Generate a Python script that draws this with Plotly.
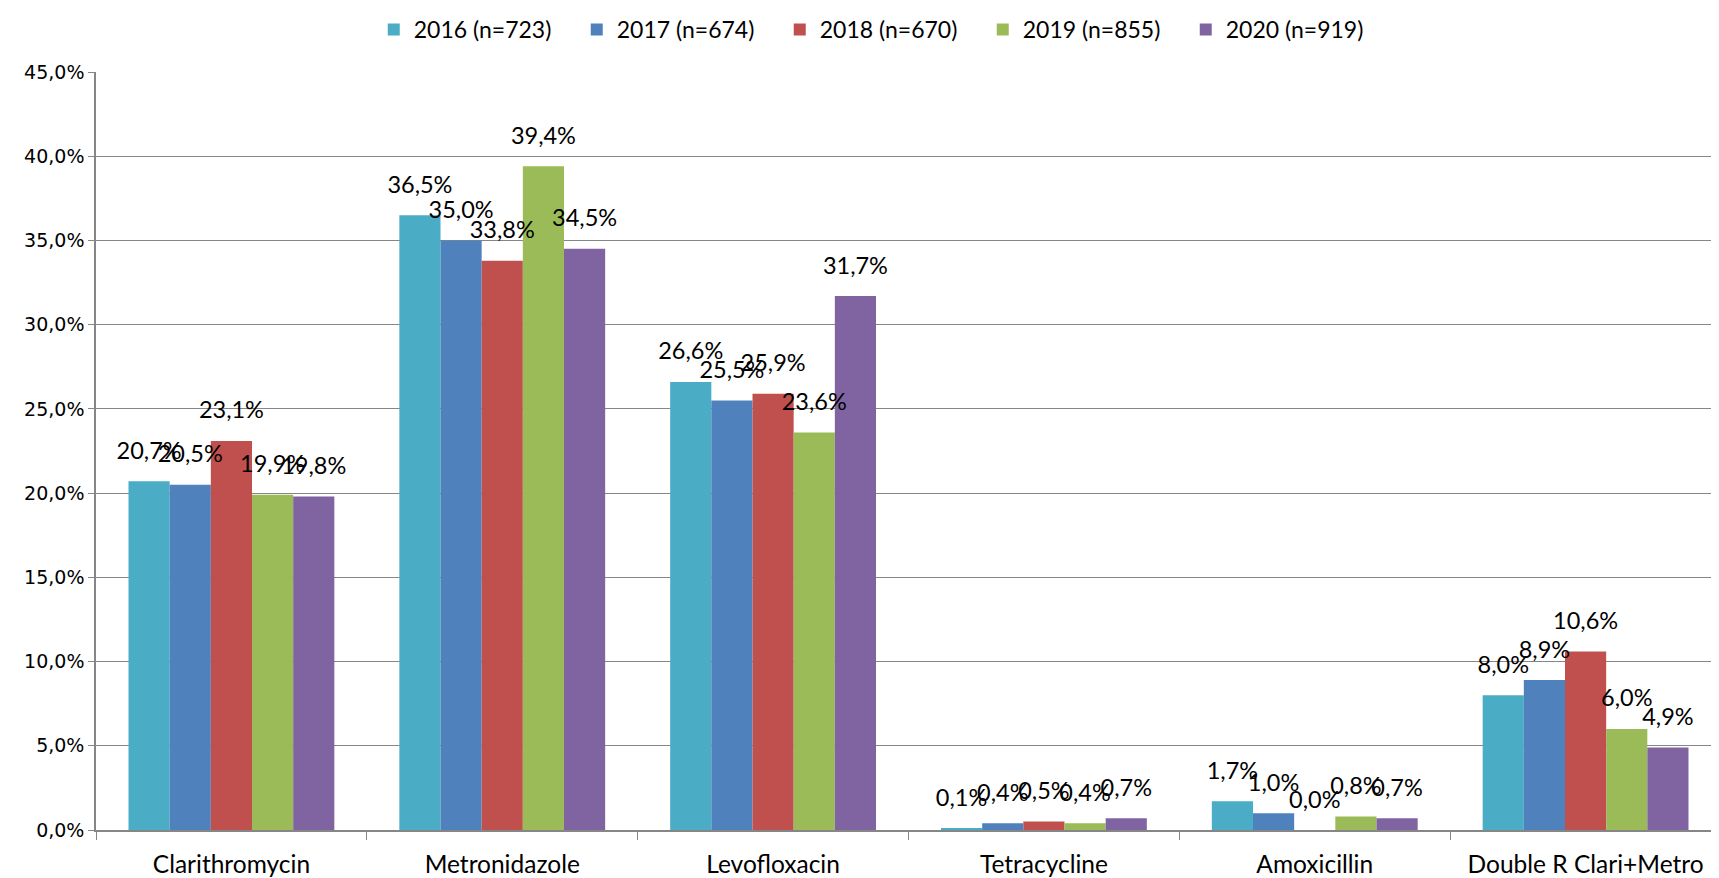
import plotly.graph_objects as go

categories = ["Clarithromycin", "Metronidazole", "Levofloxacin", "Tetracycline", "Amoxicillin", "Double R Clari+Metro"]
series_names = ["2016 (n=723)", "2017 (n=674)", "2018 (n=670)", "2019 (n=855)", "2020 (n=919)"]
v2016 = [20.7, 36.5, 26.6, 0.1, 1.7, 8.0]
v2017 = [20.5, 35.0, 25.5, 0.4, 1.0, 8.9]
v2018 = [23.1, 33.8, 25.9, 0.5, 0.0, 10.6]
v2019 = [19.9, 39.4, 23.6, 0.4, 0.8, 6.0]
v2020 = [19.8, 34.5, 31.7, 0.7, 0.7, 4.9]
values = [v2016, v2017, v2018, v2019, v2020]
colors = ["#4BACC6", "#4F81BD", "#C0504D", "#9BBB59", "#8064A2"]
yticks = [0, 5, 10, 15, 20, 25, 30, 35, 40, 45]
ytick_text = [f"{v:.1f}".replace(".", ",") + "%" for v in yticks]

label_font = "Lato, Open Sans, sans-serif"

fig = go.Figure()
for name, vals, col in zip(series_names, values, colors):
    fig.add_trace(go.Bar(
        x=categories, y=vals, name=name,
        marker=dict(color=col, line=dict(width=0)),
        offsetgroup=name, hoverinfo="skip",
    ))
for name, vals in zip(series_names, values):
    fig.add_trace(go.Scatter(
        x=categories, y=vals, mode="markers+text", offsetgroup=name,
        marker=dict(size=25, opacity=0),
        text=[f"{v:.1f}".replace(".", ",") + "%" for v in vals],
        textposition="top center", cliponaxis=False, showlegend=False,
        hoverinfo="skip",
        textfont=dict(family=label_font, size=23.5, color="#000000"),
    ))

fig.update_layout(
    width=1719, height=878,
    barmode="group", bargap=0.24, bargroupgap=0,
    scattermode="group", scattergap=0.24,
    plot_bgcolor="#FFFFFF", paper_bgcolor="#FFFFFF",
    margin=dict(l=88, r=6, t=64, b=56, autoexpand=False),
    showlegend=True,
    legend=dict(orientation="h", x=0.508, xanchor="center", xref="container",
                y=1.0, yanchor="top", yref="container",
                font=dict(family=label_font, size=23, color="#000000"),
                itemwidth=30, tracegroupgap=0, entrywidth=158, entrywidthmode="pixels"),
    xaxis=dict(showline=True, linecolor="#868686", linewidth=1.5,
               ticks="outside", tickson="boundaries", ticklen=8, tickcolor="#868686",
               tickfont=dict(family=label_font, size=24.5, color="#000000"),
               ticklabelstandoff=12,
               showgrid=False, automargin=False),
    yaxis=dict(range=[0, 45], tickvals=yticks, ticktext=ytick_text,
               showline=True, linecolor="#868686", linewidth=1.5,
               ticks="outside", ticklen=6, tickcolor="#868686",
               gridcolor="#868686", gridwidth=1, automargin=False,
               tickfont=dict(family="DejaVu Sans, Verdana, sans-serif", size=19, color="#000000"),
               zeroline=False),
)

fig.write_html("out.html")
